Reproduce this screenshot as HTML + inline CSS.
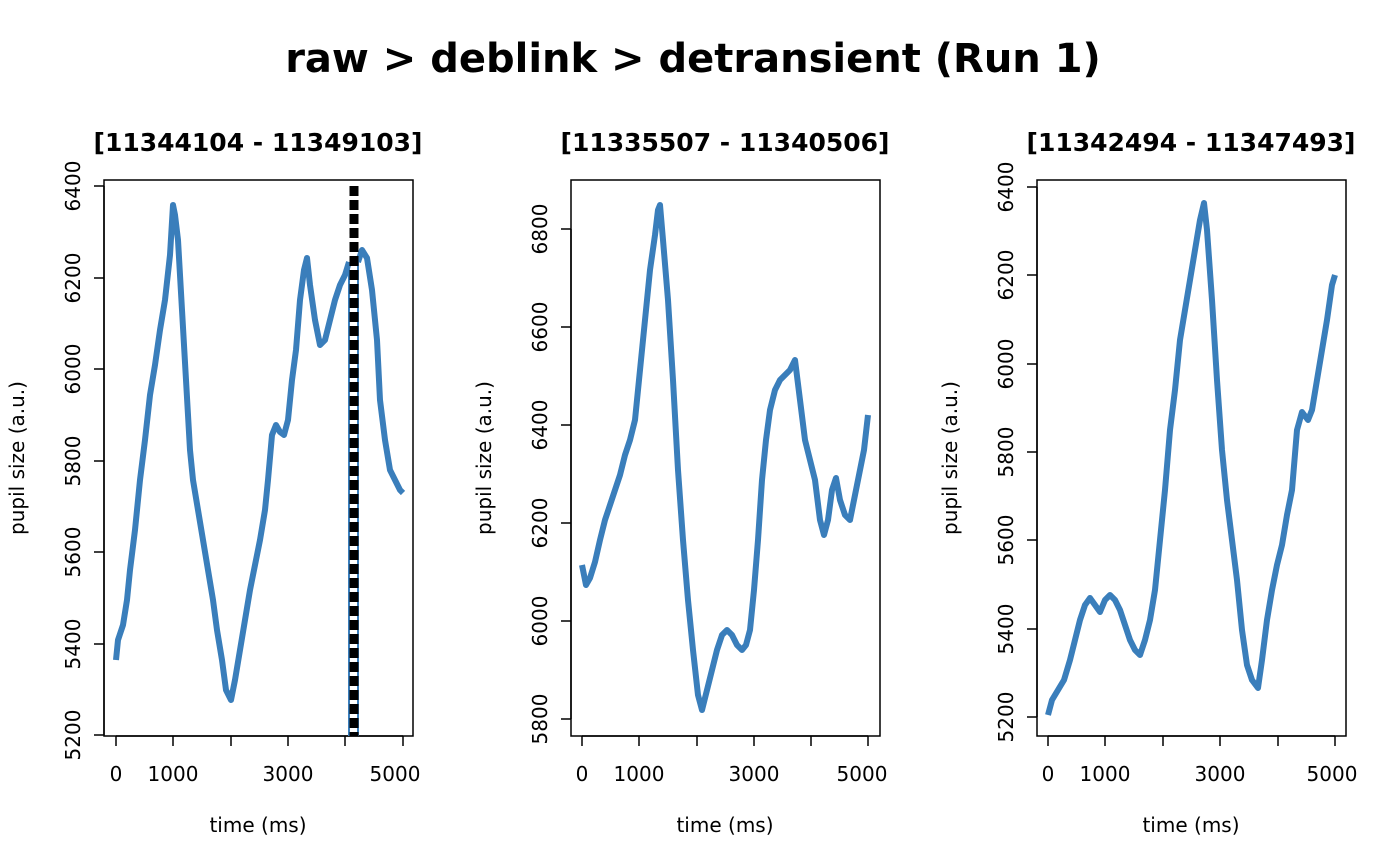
<!DOCTYPE html>
<html><head><style>body{margin:0;background:#fff}svg{display:block}text{font-family:"DejaVu Sans","Liberation Sans",sans-serif;fill:#000}</style></head>
<body>
<svg width="1400" height="866" viewBox="0 0 1400 866" xmlns="http://www.w3.org/2000/svg">
<text x="693" y="72" text-anchor="middle" font-size="40" font-weight="bold">raw &gt; deblink &gt; detransient (Run 1)</text>

<!-- Panel 1 -->
<g>
<text x="258" y="151" text-anchor="middle" font-size="25" font-weight="bold">[11344104 - 11349103]</text>
<rect x="104" y="180" width="309" height="556" fill="none" stroke="#000" stroke-width="1.5"/>
<g stroke="#000" stroke-width="1.5" fill="none">
<path d="M116,736V746M173,736V746M231,736V746M288,736V746M345,736V746M403,736V746M116,736H403"/>
<path d="M104,186V735M94,186H104M94,278H104M94,369H104M94,461H104M94,552H104M94,644H104M94,735H104"/>
</g>
<g font-size="20" text-anchor="middle">
<text x="116" y="781">0</text><text x="173" y="781">1000</text><text x="288" y="781">3000</text><text x="395" y="781">5000</text>
<text transform="translate(80,735) rotate(-90)">5200</text><text transform="translate(80,644) rotate(-90)">5400</text><text transform="translate(80,552) rotate(-90)">5600</text><text transform="translate(80,461) rotate(-90)">5800</text><text transform="translate(80,369) rotate(-90)">6000</text><text transform="translate(80,278) rotate(-90)">6200</text><text transform="translate(80,186) rotate(-90)">6400</text>
</g>
<text x="258" y="832" text-anchor="middle" font-size="20">time (ms)</text>
<text transform="translate(24,458) rotate(-90)" text-anchor="middle" font-size="20">pupil size (a.u.)</text>
<polyline fill="none" stroke="#3a7ebb" stroke-width="6" stroke-linejoin="round" points="116,660 118,640 123,625 127,600 130,570 135,530 140,480 145,440 150,395 155,365 160,330 165,300 170,255 173,205 175,215 178,240 182,310 186,380 190,450 193,480 198,510 203,540 208,570 213,600 217,630 222,660 226,690 231,700 235,680 240,650 245,620 250,590 255,565 260,540 265,510 268,480 272,435 276,425 280,432 284,435 288,420 292,380 296,350 300,300 304,270 307,258 310,285 315,320 320,345 325,340 330,320 335,300 340,285 345,275 349,262"/>
<polyline fill="none" stroke="#3a7ebb" stroke-width="6" stroke-linejoin="round" points="358,262 362,250 367,258 372,290 377,340 380,400 385,440 390,470 395,480 400,490 403,493"/>
<path d="M349,262V736M358,262V736" stroke="#3a7ebb" stroke-width="2"/>
<path d="M354,186V736" stroke="#000" stroke-width="9" stroke-dasharray="10,4"/>
</g>

<!-- Panel 2 -->
<g>
<text x="725" y="151" text-anchor="middle" font-size="25" font-weight="bold">[11335507 - 11340506]</text>
<rect x="571" y="180" width="309" height="556" fill="none" stroke="#000" stroke-width="1.5"/>
<g stroke="#000" stroke-width="1.5" fill="none">
<path d="M582,736V746M639,736V746M697,736V746M754,736V746M811,736V746M868,736V746M582,736H868"/>
<path d="M571,229V719M561,229H571M561,327H571M561,425H571M561,523H571M561,621H571M561,719H571"/>
</g>
<g font-size="20" text-anchor="middle">
<text x="582" y="781">0</text><text x="639" y="781">1000</text><text x="754" y="781">3000</text><text x="862" y="781">5000</text>
<text transform="translate(547,719) rotate(-90)">5800</text><text transform="translate(547,621) rotate(-90)">6000</text><text transform="translate(547,523) rotate(-90)">6200</text><text transform="translate(547,425) rotate(-90)">6400</text><text transform="translate(547,327) rotate(-90)">6600</text><text transform="translate(547,229) rotate(-90)">6800</text>
</g>
<text x="725" y="832" text-anchor="middle" font-size="20">time (ms)</text>
<text transform="translate(491,458) rotate(-90)" text-anchor="middle" font-size="20">pupil size (a.u.)</text>
<polyline fill="none" stroke="#3a7ebb" stroke-width="6" stroke-linejoin="round" points="582,565 586,585 590,578 595,562 600,540 605,520 610,505 615,490 620,475 625,455 630,440 635,420 640,370 645,320 650,270 655,235 658,210 660,205 663,240 668,300 673,380 678,470 683,540 688,600 693,650 698,695 702,710 707,690 712,670 717,650 722,635 727,630 732,635 737,645 742,650 746,645 750,630 754,590 758,540 762,480 766,440 770,410 775,390 780,380 785,375 790,370 795,360 800,400 805,440 810,460 815,480 820,520 824,535 828,520 832,490 836,478 840,500 845,515 850,520 855,495 860,470 864,450 868,415"/>
</g>

<!-- Panel 3 -->
<g>
<text x="1191" y="151" text-anchor="middle" font-size="25" font-weight="bold">[11342494 - 11347493]</text>
<rect x="1037" y="180" width="309" height="556" fill="none" stroke="#000" stroke-width="1.5"/>
<g stroke="#000" stroke-width="1.5" fill="none">
<path d="M1048,736V746M1105,736V746M1163,736V746M1220,736V746M1278,736V746M1335,736V746M1048,736H1335"/>
<path d="M1037,187V717M1027,187H1037M1027,275H1037M1027,364H1037M1027,452H1037M1027,540H1037M1027,629H1037M1027,717H1037"/>
</g>
<g font-size="20" text-anchor="middle">
<text x="1048" y="781">0</text><text x="1105" y="781">1000</text><text x="1220" y="781">3000</text><text x="1332" y="781">5000</text>
<text transform="translate(1013,717) rotate(-90)">5200</text><text transform="translate(1013,629) rotate(-90)">5400</text><text transform="translate(1013,540) rotate(-90)">5600</text><text transform="translate(1013,452) rotate(-90)">5800</text><text transform="translate(1013,364) rotate(-90)">6000</text><text transform="translate(1013,275) rotate(-90)">6200</text><text transform="translate(1013,187) rotate(-90)">6400</text>
</g>
<text x="1191" y="832" text-anchor="middle" font-size="20">time (ms)</text>
<text transform="translate(957,458) rotate(-90)" text-anchor="middle" font-size="20">pupil size (a.u.)</text>
<polyline fill="none" stroke="#3a7ebb" stroke-width="6" stroke-linejoin="round" points="1048,715 1052,700 1058,690 1064,680 1070,660 1075,640 1080,620 1085,605 1090,598 1095,605 1100,612 1105,600 1110,595 1115,600 1120,610 1125,625 1130,640 1135,650 1140,655 1145,640 1150,620 1155,590 1160,540 1165,490 1170,430 1175,390 1180,340 1185,310 1190,280 1195,250 1200,220 1204,203 1207,230 1212,300 1217,380 1222,450 1227,500 1232,540 1237,580 1242,630 1247,665 1252,680 1258,688 1262,660 1267,620 1272,590 1277,565 1282,545 1287,515 1292,490 1297,430 1302,412 1308,420 1312,410 1317,380 1322,350 1327,320 1332,285 1335,275"/>
</g>
</svg>
</body></html>
